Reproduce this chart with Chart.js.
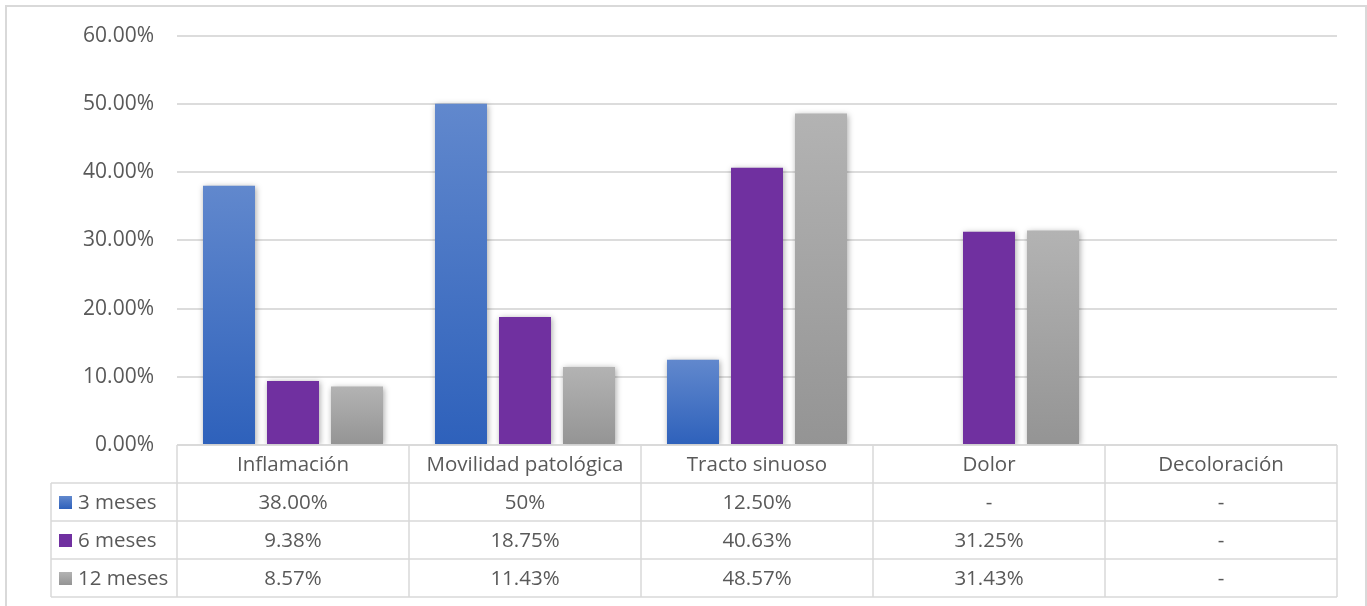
<!DOCTYPE html>
<html>
<head>
<meta charset="utf-8">
<script src="https://cdn.jsdelivr.net/npm/chart.js@4/dist/chart.umd.min.js"></script>
<style>
  html, body { margin: 0; padding: 0; background: #ffffff; overflow: hidden; }
  #wrap { position: relative; width: 1367px; height: 606px; }
  #frame { position: absolute; left: 5px; top: 5px; width: 1358px; height: 700px;
           border: 2px solid #d9d9d9; box-sizing: content-box; pointer-events: none; }
  canvas { position: absolute; left: 0; top: 0; }
</style>
</head>
<body>
<div id="wrap">
  <canvas id="chart" width="1367" height="606"></canvas>
  <div id="frame"></div>
</div>
<script>
// Categories and series (percent values); null = no data ("-")
const categories = ['Inflamación', 'Movilidad patológica', 'Tracto sinuoso', 'Dolor', 'Decoloración'];
const seriesNames = ['3 meses', '6 meses', '12 meses'];
const meses3 = [38.00, 50, 12.50, null, null];
const meses6 = [9.38, 18.75, 40.63, 31.25, null];
const meses12 = [8.57, 11.43, 48.57, 31.43, null];
// Decimal places shown in the data table for each cell
const decimals3 = [2, 0, 2, 2, 2];
const decimals6 = [2, 2, 2, 2, 2];
const decimals12 = [2, 2, 2, 2, 2];
// Y axis ticks (percent)
const yTicks = [0, 10, 20, 30, 40, 50, 60];

const FONT = '"Open Sans", "Noto Sans", sans-serif';
const TEXT = '#595959';
const LINE = '#d9d9d9';

function gradientFill(top, bottom) {
  return (ctx) => {
    const chart = ctx.chart;
    if (ctx.type !== 'data' || !chart.chartArea) return bottom;
    const v = ctx.dataset.data[ctx.dataIndex];
    if (v == null) return bottom;
    const y = chart.scales.y;
    const y0 = y.getPixelForValue(v);
    const y1 = y.getPixelForValue(0);
    const g = chart.ctx.createLinearGradient(0, y0, 0, y1);
    g.addColorStop(0, top);
    g.addColorStop(1, bottom);
    return g;
  };
}

const seriesStyles = [
  { fill: gradientFill('#6188cd', '#2e61bb'), swatch: ['#6188cd', '#2e61bb'] },
  { fill: '#7030a0', swatch: ['#7030a0', '#7030a0'] },
  { fill: gradientFill('#b3b3b3', '#949494'), swatch: ['#b3b3b3', '#949494'] }
];
const seriesValues = [meses3, meses6, meses12];
const seriesDecimals = [decimals3, decimals6, decimals12];

// Soft drop shadow behind the bars
const barShadow = {
  id: 'barShadow',
  beforeDatasetsDraw(chart) {
    const c = chart.ctx;
    c.save();
    c.shadowColor = 'rgba(0,0,0,0.35)';
    c.shadowBlur = 6;
    c.shadowOffsetX = 1;
    c.shadowOffsetY = 1;
  },
  afterDatasetsDraw(chart) { chart.ctx.restore(); }
};

// Data table drawn under the plot, aligned with the category scale
const dataTable = {
  id: 'dataTable',
  afterDraw(chart) {
    const c = chart.ctx;
    const x = chart.scales.x;
    const area = chart.chartArea;
    const rowH = 38;
    const top = area.bottom;
    const labelLeft = 51;
    const n = categories.length;
    const half = (x.getPixelForValue(1) - x.getPixelForValue(0)) / 2;
    const edges = [];
    for (let i = 0; i < n; i++) edges.push(x.getPixelForValue(i) - half);
    edges.push(x.getPixelForValue(n - 1) + half);
    const bottom = top + rowH * (seriesNames.length + 1);

    c.save();
    c.strokeStyle = LINE;
    c.lineWidth = 1.5;
    c.beginPath();
    // horizontal rules
    c.moveTo(edges[0], top); c.lineTo(edges[n], top);
    for (let r = 1; r <= seriesNames.length + 1; r++) {
      const yy = top + r * rowH;
      c.moveTo(labelLeft, yy); c.lineTo(edges[n], yy);
    }
    // vertical rules
    edges.forEach((ex) => { c.moveTo(ex, top); c.lineTo(ex, bottom); });
    c.moveTo(labelLeft, top + rowH); c.lineTo(labelLeft, bottom);
    c.stroke();

    c.fillStyle = TEXT;
    c.textBaseline = 'middle';
    c.font = '20.5px ' + FONT;
    c.textAlign = 'center';
    categories.forEach((cat, i) => {
      c.fillText(cat, x.getPixelForValue(i), top + rowH / 2 + 1);
    });

    seriesNames.forEach((name, s) => {
      const yc = top + rowH * (s + 1) + rowH / 2 + 1;
      // legend swatch
      const sw = seriesStyles[s].swatch;
      const g = c.createLinearGradient(0, yc - 7, 0, yc + 6);
      g.addColorStop(0, sw[0]); g.addColorStop(1, sw[1]);
      c.fillStyle = g;
      c.fillRect(59, yc - 7, 13, 13);
      c.fillStyle = TEXT;
      c.textAlign = 'left';
      c.fillText(name, 78, yc);
      c.textAlign = 'center';
      seriesValues[s].forEach((v, i) => {
        const txt = v == null ? '-' : v.toFixed(seriesDecimals[s][i]) + '%';
        c.fillText(txt, x.getPixelForValue(i), yc);
      });
    });
    c.restore();
  }
};

new Chart(document.getElementById('chart'), {
  type: 'bar',
  data: {
    labels: categories,
    datasets: seriesNames.map((name, s) => ({
      label: name,
      data: seriesValues[s],
      backgroundColor: seriesStyles[s].fill,
      borderWidth: 0,
      categoryPercentage: 0.8276,
      barPercentage: 0.8125
    }))
  },
  options: {
    responsive: false,
    animation: false,
    events: [],
    layout: { padding: { left: 0, top: 35, right: 30, bottom: 161 } },
    plugins: { legend: { display: false }, tooltip: { enabled: false } },
    scales: {
      x: { display: false },
      y: {
        min: 0, max: 60,
        afterFit(scale) { scale.width = 177; },
        afterBuildTicks(scale) { scale.ticks = yTicks.map((v) => ({ value: v })); },
        border: { display: false },
        grid: { color: '#dcdcdc', lineWidth: 2, drawTicks: false },
        ticks: {
          padding: 23,
          color: TEXT,
          font: { family: FONT, size: 21 },
          callback: (v) => v.toFixed(2) + '%'
        }
      }
    }
  },
  plugins: [barShadow, dataTable]
});
</script>
</body>
</html>
